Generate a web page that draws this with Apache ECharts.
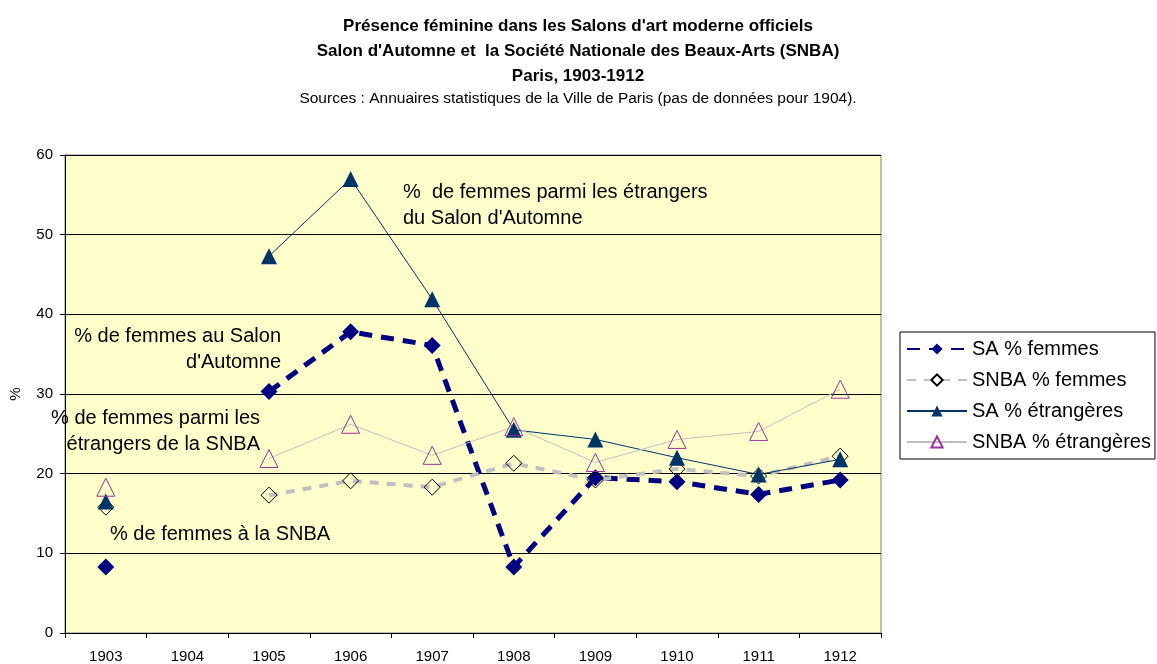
<!DOCTYPE html>
<html><head><meta charset="utf-8">
<script src="https://cdn.jsdelivr.net/npm/echarts@6/dist/echarts.min.js"></script>
<style>html,body{margin:0;padding:0;background:#fff}#c{width:1157px;height:664px}</style>
</head><body><div id="c"></div>
<script>
const years = ['1903','1904','1905','1906','1907','1908','1909','1910','1911','1912'];
const saFemmes = [8.3, null, 30.3, 37.8, 36.1, 8.3, 19.5, 19.0, 17.4, 19.2];
const snbaFemmes = [15.8, null, 17.3, 19.1, 18.3, 21.3, 19.2, 20.6, 19.7, 22.2];
const saEtrangeres = [16.5, null, 47.3, 57.0, 41.9, 25.5, 24.3, 22.0, 19.9, 21.8];
const snbaEtrangeres = [18.3, null, 21.9, 26.2, 22.3, 25.9, 21.4, 24.3, 25.3, 30.6];
const yTicks = [0, 10, 20, 30, 40, 50, 60];

const F = 'Liberation Sans, Arial, sans-serif';
const chart = echarts.init(document.getElementById('c'), null, {renderer:'canvas'});
chart.setOption({
  animation: false,
  textStyle: {fontFamily: F},
  title: [
    {text: "Présence féminine dans les Salons d'art moderne officiels\nSalon d'Automne et  la Société Nationale des Beaux-Arts (SNBA)\nParis, 1903-1912",
     left: 573, textAlign: 'center', top: 9,
     textStyle: {fontSize: 17, fontWeight: 'bold', color: '#000', lineHeight: 25, fontFamily: F}},
    {text: "Sources : Annuaires statistiques de la Ville de Paris (pas de données pour 1904).",
     left: 573, textAlign: 'center', top: 86,
     textStyle: {fontSize: 15.5, fontWeight: 'normal', color: '#000', fontFamily: F}}
  ],
  legend: {
    orient: 'vertical', left: 900, top: 332,
    borderColor: '#000', borderWidth: 1, padding: [7, 4, 7, 6],
    itemGap: 11, itemWidth: 60, itemHeight: 14,
    textStyle: {fontSize: 20, color: '#000', fontFamily: F},
    data: ['SA % femmes', 'SNBA % femmes', 'SA % étrangères', 'SNBA % étrangères']
  },
  grid: {left: 64, right: 276, top: 155, bottom: 31, show: true,
    backgroundColor: '#FFFFCC', borderColor: '#808080', borderWidth: 1},
  xAxis: {
    type: 'category', data: years, boundaryGap: true,
    axisLine: {lineStyle: {color: '#000'}},
    axisTick: {show: true, length: 5, lineStyle: {color: '#000'}},
    axisLabel: {fontSize: 15, color: '#000', margin: 16, fontFamily: F}
  },
  yAxis: {
    type: 'value', min: 0, max: 60, interval: 10,
    name: '%', nameLocation: 'middle', nameGap: 42,
    nameTextStyle: {fontSize: 15, color: '#000', fontFamily: F},
    axisLine: {show: true, lineStyle: {color: '#000'}},
    axisTick: {show: true, length: 5, lineStyle: {color: '#000'}},
    axisLabel: {fontSize: 15, color: '#000', margin: 12, fontFamily: F,
      formatter: v => yTicks.includes(v) ? String(v) : ''},
    splitLine: {show: true, lineStyle: {color: '#000', width: 1}}
  },
  series: [
    {name: 'SA % femmes', type: 'line', data: saFemmes, connectNulls: false,
     symbol: 'diamond', symbolSize: 17,
     lineStyle: {color: '#000080', width: 5, type: [13, 9]},
     itemStyle: {color: '#000080'}},
    {name: 'SNBA % femmes', type: 'line', data: snbaFemmes, connectNulls: false,
     symbol: 'diamond', symbolSize: 16,
     lineStyle: {color: '#C0C0C0', width: 4, type: [9, 8]},
     itemStyle: {color: 'rgba(0,0,0,0)', borderColor: '#000', borderWidth: 1}},
    {name: 'SA % étrangères', type: 'line', data: saEtrangeres, connectNulls: false,
     symbol: 'triangle', symbolSize: 16,
     lineStyle: {color: '#003366', width: 1},
     itemStyle: {color: '#003366'}},
    {name: 'SNBA % étrangères', type: 'line', data: snbaEtrangeres, connectNulls: false,
     symbol: 'triangle', symbolSize: 18,
     lineStyle: {color: '#C0C0C0', width: 1},
     itemStyle: {color: 'rgba(0,0,0,0)', borderColor: '#993399', borderWidth: 1}}
  ],
  graphic: [
    {type: 'text', x: 403, y: 179, style: {text: "%  de femmes parmi les étrangers\ndu Salon d'Automne", font: '20px ' + F, fill: '#000', lineHeight: 26, align: 'left', verticalAlign: 'top'}},
    {type: 'text', x: 281, y: 323, style: {text: "% de femmes au Salon\nd'Automne", font: '20px ' + F, fill: '#000', lineHeight: 26, align: 'right', verticalAlign: 'top'}},
    {type: 'text', x: 260, y: 405, style: {text: "% de femmes parmi les\nétrangers de la SNBA", font: '20px ' + F, fill: '#000', lineHeight: 26, align: 'right', verticalAlign: 'top'}},
    {type: 'text', x: 110, y: 521, style: {text: "% de femmes à la SNBA", font: '20px ' + F, fill: '#000', lineHeight: 26, align: 'left', verticalAlign: 'top'}}
  ]
});
</script></body></html>
